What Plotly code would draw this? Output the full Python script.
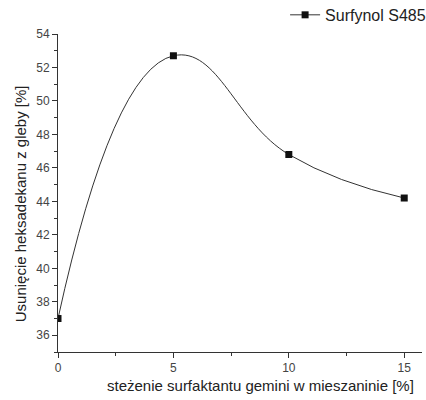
import plotly.graph_objects as go

conc = [0, 5, 10, 15]
removal = [37.0, 52.7, 46.8, 44.2]
series_name = "Surfynol S485"
x_title = "steżenie surfaktantu gemini w mieszaninie [%]"
y_title = "Usunięcie heksadekanu z gleby [%]"
y_ticks = [36, 38, 40, 42, 44, 46, 48, 50, 52, 54]
x_ticks = [0, 5, 10, 15]

fig = go.Figure()
fig.add_trace(go.Scatter(
    x=conc, y=removal, mode="lines+markers", name=series_name,
    line=dict(color="#333333", width=1, shape="spline", smoothing=1.3),
    marker=dict(symbol="square", size=7, color="#111111"),
))

title_font = dict(size=15, color="#222222", family="Liberation Sans, Arial, sans-serif")
fig.add_annotation(text=x_title, xref="paper", yref="paper", x=0.555, y=-0.104,
                   xanchor="center", yanchor="middle", showarrow=False, font=title_font)
fig.add_annotation(text=y_title, xref="paper", yref="paper", x=-0.104, y=0.465,
                   xanchor="center", yanchor="middle", showarrow=False,
                   textangle=-90, font=title_font)

fig.update_layout(
    width=426, height=400,
    margin=dict(l=58, r=4, t=34, b=48, autoexpand=False),
    paper_bgcolor="white", plot_bgcolor="white",
    font=dict(family="Liberation Sans, Arial, sans-serif", color="#333333"),
    showlegend=True,
    legend=dict(x=1.025, xanchor="right", y=1.06, yanchor="middle",
                font=dict(size=16, color="#222222"), bgcolor="rgba(0,0,0,0)",
                itemwidth=30),
    xaxis=dict(
        range=[0, 15.77], tickvals=x_ticks, ticks="outside", ticklen=5,
        tickwidth=1, tickcolor="#333333", showline=True, linecolor="#333333",
        linewidth=1, showgrid=False, zeroline=False, automargin=False,
        tickfont=dict(size=12, color="#444444"),
        minor=dict(dtick=2.5, tick0=0, ticks="outside", ticklen=3, tickcolor="#333333"),
    ),
    yaxis=dict(
        range=[35, 54], tickvals=y_ticks, ticks="outside", ticklen=5,
        tickwidth=1, tickcolor="#333333", showline=True, linecolor="#333333",
        linewidth=1, showgrid=False, zeroline=False, automargin=False,
        tickfont=dict(size=12, color="#444444"),
        minor=dict(dtick=1, tick0=35, ticks="outside", ticklen=3, tickcolor="#333333"),
    ),
)

fig.write_html(
    "out.html",
    config={"displayModeBar": False},
    post_script="document.body.style.margin='0';document.body.style.overflow='hidden';",
)
